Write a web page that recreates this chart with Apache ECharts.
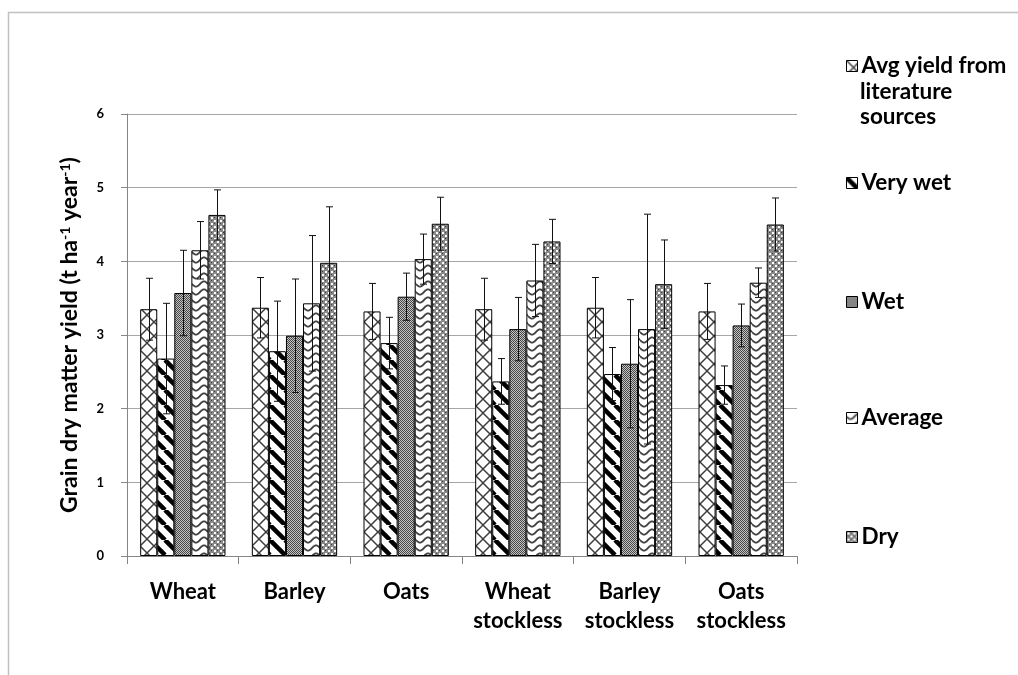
<!DOCTYPE html>
<html>
<head>
<meta charset="utf-8">
<script src="https://cdn.jsdelivr.net/npm/echarts@6/dist/echarts.min.js"></script>
<style>
html,body{margin:0;padding:0;background:#fff;}
#chart{width:1018px;height:675px;}
</style>
</head>
<body>
<div id="chart"></div>
<script>
// ---- data ----
const categories = ['Wheat', 'Barley', 'Oats', 'Wheat\nstockless', 'Barley\nstockless', 'Oats\nstockless'];
const seriesNames = ['Avg yield from literature sources', 'Very wet', 'Wet', 'Average', 'Dry'];
const avgLit     = [3.35, 3.37, 3.32, 3.35, 3.37, 3.32];
const avgLitErr  = [0.42, 0.41, 0.38, 0.42, 0.41, 0.38];
const veryWet    = [2.68, 2.78, 2.89, 2.37, 2.47, 2.32];
const veryWetErr = [0.75, 0.68, 0.35, 0.31, 0.36, 0.26];
const wet        = [3.57, 2.99, 3.52, 3.08, 2.61, 3.13];
const wetErr     = [0.58, 0.77, 0.32, 0.43, 0.87, 0.29];
const average    = [4.15, 3.43, 4.03, 3.74, 3.08, 3.71];
const averageErr = [0.39, 0.92, 0.34, 0.49, 1.56, 0.20];
const dry        = [4.63, 3.98, 4.51, 4.27, 3.69, 4.50];
const dryErr     = [0.34, 0.76, 0.36, 0.30, 0.60, 0.36];
const yTicks = [0, 1, 2, 3, 4, 5, 6];

const values = [avgLit, veryWet, wet, average, dry];
const errors = [avgLitErr, veryWetErr, wetErr, averageErr, dryErr];

// ---- patterns ----
function tile(w, h, draw) {
  const c = document.createElement('canvas');
  c.width = w; c.height = h;
  const ctx = c.getContext('2d');
  draw(ctx, w, h);
  return { image: c, repeat: 'repeat' };
}
const patCross = tile(14, 14, (ctx, w, h) => {
  ctx.fillStyle = '#fff'; ctx.fillRect(0, 0, w, h);
  ctx.strokeStyle = '#3c3c3c'; ctx.lineWidth = 1.5;
  for (const k of [-w, 0, w]) {
    ctx.beginPath(); ctx.moveTo(k, 0); ctx.lineTo(k + w, h); ctx.stroke();
    ctx.beginPath(); ctx.moveTo(k + w, 0); ctx.lineTo(k, h); ctx.stroke();
  }
});
const patStripe = tile(15, 15, (ctx, w, h) => {
  ctx.fillStyle = '#fff'; ctx.fillRect(0, 0, w, h);
  ctx.strokeStyle = '#000'; ctx.lineWidth = 4.5;
  for (const k of [-w, 0, w]) {
    ctx.beginPath(); ctx.moveTo(k, 0); ctx.lineTo(k + w, h); ctx.stroke();
  }
});
const patChecker = tile(2, 2, (ctx) => {
  ctx.fillStyle = '#c4c4c4'; ctx.fillRect(0, 0, 2, 2);
  ctx.fillStyle = '#474747'; ctx.fillRect(0, 0, 1, 1); ctx.fillRect(1, 1, 1, 1);
});
const patWave = tile(16, 8, (ctx, w, h) => {
  ctx.fillStyle = '#fff'; ctx.fillRect(0, 0, w, h);
  ctx.strokeStyle = '#444'; ctx.lineWidth = 1.8;
  ctx.beginPath();
  for (let x = 0; x <= w; x += 0.5) {
    const y = 4 + 2.6 * Math.sin(2 * Math.PI * x / w);
    if (x === 0) ctx.moveTo(x, y); else ctx.lineTo(x, y);
  }
  ctx.stroke();
});
const patDots = tile(6, 6, (ctx) => {
  ctx.fillStyle = '#8a8a8a'; ctx.fillRect(0, 0, 6, 6);
  ctx.fillStyle = '#ffffff'; ctx.fillRect(1, 1, 2, 2); ctx.fillRect(4, 4, 2, 2);
  ctx.fillStyle = '#3a3a3a'; ctx.fillRect(4, 1, 1, 1); ctx.fillRect(1, 4, 1, 1);
});
const patterns = [patCross, patStripe, patChecker, patWave, patDots];

const FONT = 'Lato';
const CAT_GAP = 0.236;

const barSeries = seriesNames.map((name, i) => ({
  name: name,
  type: 'bar',
  data: values[i],
  barGap: '0%',
  barCategoryGap: (CAT_GAP * 100) + '%',
  itemStyle: { color: patterns[i], borderColor: '#000', borderWidth: 1 },
  emphasis: { disabled: true },
  z: 2
}));

const errData = [];
values.forEach((arr, si) => {
  arr.forEach((v, ci) => {
    errData.push([ci, si, v - errors[si][ci], v + errors[si][ci]]);
  });
});

const errSeries = {
  type: 'custom',
  name: 'err',
  data: errData,
  encode: { x: 0, y: [2, 3] },
  z: 5,
  silent: true,
  renderItem: function (params, api) {
    const ci = api.value(0), si = api.value(1);
    const lo = api.coord([ci, api.value(2)]);
    const hi = api.coord([ci, api.value(3)]);
    const catW = api.size([1, 0])[0];
    const barW = catW * (1 - CAT_GAP) / 5;
    const x = Math.round(lo[0] + (si - 2) * barW) + 0.5;
    const cap = 3.5;
    const st = { stroke: '#111', lineWidth: 1 };
    return {
      type: 'group',
      children: [
        { type: 'line', shape: { x1: x, y1: lo[1], x2: x, y2: hi[1] }, style: st },
        { type: 'line', shape: { x1: x - cap, y1: lo[1], x2: x + cap, y2: lo[1] }, style: st },
        { type: 'line', shape: { x1: x - cap, y1: hi[1], x2: x + cap, y2: hi[1] }, style: st }
      ]
    };
  }
};

const LEG_FS = 22.5;
const legendCenters = [66, 183, 302, 418, 537];
const legendLabels = ['Avg yield from', 'Very wet', 'Wet', 'Average', 'Dry'];
const legends = seriesNames.map((name, i) => ({
  orient: 'vertical',
  left: 846,
  top: legendCenters[i] - 13,
  padding: 0,
  itemWidth: 11,
  itemHeight: 11,
  icon: 'rect',
  selectedMode: false,
  formatter: () => legendLabels[i],
  textStyle: { fontFamily: FONT, fontWeight: 'bold', fontSize: LEG_FS, color: '#000', lineHeight: 26, padding: [0, 0, 0, -1] },
  data: [{ name: name, itemStyle: { color: patterns[i], borderColor: '#000', borderWidth: 1 } }]
}));

const chart = echarts.init(document.getElementById('chart'), null, { renderer: 'canvas' });
chart.setOption({
  animation: false,
  backgroundColor: '#fff',
  grid: { left: 127, right: 221, top: 114, bottom: 119, containLabel: false },
  legend: legends,
  graphic: [
    { type: 'rect', silent: true, z: -10, shape: { x: 8.5, y: 12.5, width: 1200, height: 900 },
      style: { fill: 'none', stroke: '#c0c0c0', lineWidth: 1.5 } },
    { type: 'text', silent: true, left: 860, top: 79,
      style: { text: 'literature\nsources', font: 'bold ' + LEG_FS + 'px ' + FONT, fill: '#000', lineHeight: 25 } }
  ],
  xAxis: {
    type: 'category',
    data: categories,
    axisLine: { lineStyle: { color: '#868686', width: 1 } },
    axisTick: { show: true, length: 8, lineStyle: { color: '#868686' } },
    axisLabel: { fontFamily: FONT, fontWeight: 'bold', fontSize: 22, color: '#000', lineHeight: 29, margin: 21, interval: 0 }
  },
  yAxis: {
    type: 'value',
    min: 0, max: 6, interval: 1,
    axisLine: { show: true, lineStyle: { color: '#868686', width: 1 } },
    axisTick: { show: true, length: 6, lineStyle: { color: '#868686' } },
    splitLine: { lineStyle: { color: '#a6a6a6', width: 1 } },
    axisLabel: { fontFamily: FONT, fontWeight: 'bold', fontSize: 13, color: '#000', margin: 23,
      formatter: v => yTicks.includes(v) ? String(v) : '' },
    name: 'Grain dry matter yield (t ha{sup|-1} year{sup|-1})',
    nameLocation: 'middle',
    nameGap: 46,
    nameTextStyle: {
      fontFamily: FONT, fontWeight: 'bold', fontSize: 23, color: '#000',
      rich: { sup: { fontFamily: FONT, fontWeight: 'bold', fontSize: 14, color: '#000', verticalAlign: 'top', lineHeight: 23 } }
    }
  },
  series: barSeries.concat([errSeries])
});
</script>
</body>
</html>
